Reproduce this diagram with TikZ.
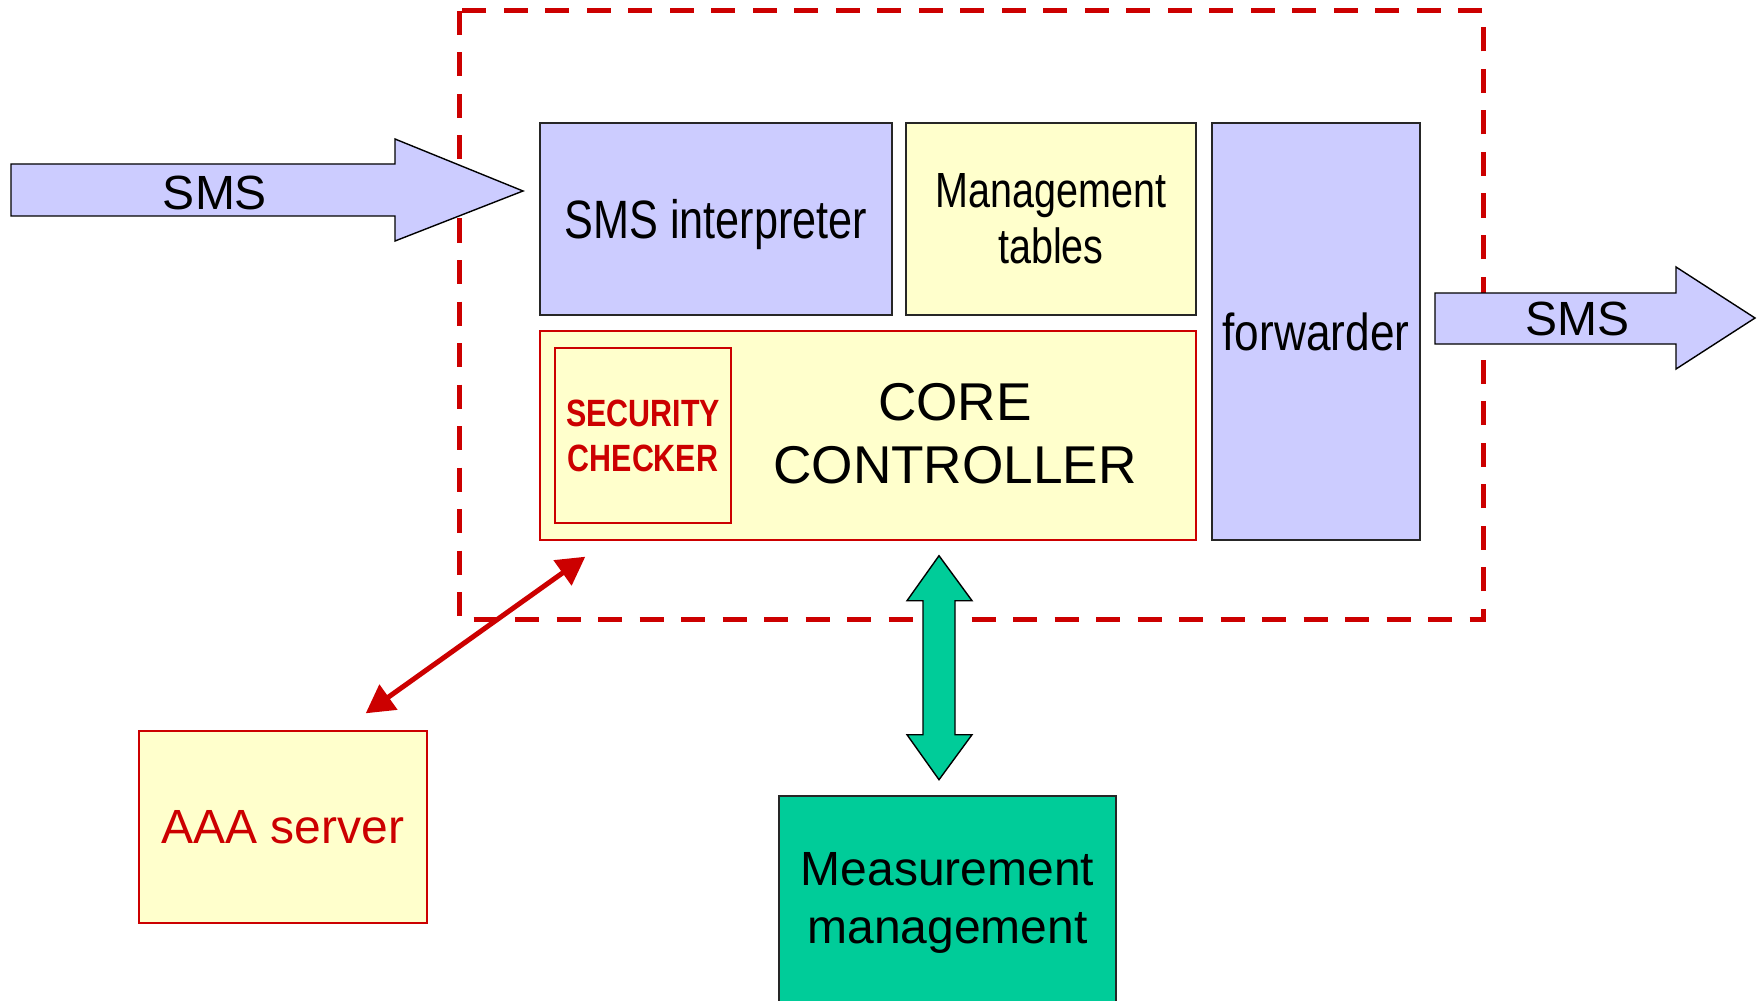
\documentclass[tikz,border=0pt]{standalone}
\usepackage{fontspec}
\setmainfont{Liberation Sans}
\newfontfamily\narrowfont[FakeStretch=0.8]{Liberation Sans}
\newfontfamily\narrowerfont[FakeStretch=0.85]{Liberation Sans}
\usetikzlibrary{arrows.meta,calc}
\definecolor{lav}{HTML}{CCCCFF}
\definecolor{pyel}{HTML}{FFFFCC}
\definecolor{dred}{HTML}{CC0000}
\definecolor{mgreen}{HTML}{00CC99}
\begin{document}
\begin{tikzpicture}[x=0.5pt,y=-0.5pt,
  blk/.style={draw=black!85, line width=0.8pt, inner sep=0pt, align=center, text=black},
  redblk/.style={draw=dred, line width=0.7pt, inner sep=0pt, align=center},
  bigarrow/.style={draw=black, line width=0.7pt, fill=lav, line join=miter},
  dashbox/.style={draw=dred, line width=2.5pt, dash pattern=on 12pt off 8.75pt},
  redlink/.style={draw=dred, line width=2.5pt, {Triangle[length=14pt,width=15pt]}-{Triangle[length=14pt,width=15pt]}},
  lbl/.style={inner sep=0pt, align=center}]
\useasboundingbox (0,0) rectangle (1759,1000);

% dashed system boundary
\draw[dashbox] (459,11) rectangle (1483,619);

% input SMS arrow
\draw[bigarrow] (11,164) -- (395,164) -- (395,139) -- (523,191) -- (395,241) -- (395,216) -- (11,216) -- cycle;
\node[lbl, font=\fontsize{24}{28}\selectfont] (smsin) at (215,193) {SMS};

% output SMS arrow
\draw[bigarrow] (1435,293) -- (1676,293) -- (1676,267) -- (1755,318) -- (1676,369) -- (1676,344) -- (1435,344) -- cycle;
\node[lbl, font=\fontsize{24}{28}\selectfont] (smsout) at (1577,319) {SMS};

% blocks
\node[blk, fill=lav, minimum width=176pt, minimum height=96pt, text depth=0pt,
      font=\narrowfont\fontsize{27}{32}\selectfont] (interp) at (716,219) {SMS interpreter};
\node[blk, fill=pyel, minimum width=145pt, minimum height=96pt,
      font=\narrowfont\fontsize{24.7}{28}\selectfont] (mtab) at (1051,219) {Management\\tables};
\node[blk, fill=lav, minimum width=104pt, minimum height=208.5pt,
      font=\narrowerfont\fontsize{26}{30}\selectfont] (fwd) at (1316,331.5) {forwarder};
\node[redblk, fill=pyel, minimum width=328pt, minimum height=104.5pt] (core) at (868,435.5) {};
\node[redblk, fill=pyel, line width=0.9pt, minimum width=88pt, minimum height=87.5pt,
      text=dred, font=\narrowfont\bfseries\fontsize{19}{22.5}\selectfont] (sec) at (643,435.5) {SECURITY\\CHECKER};
\node[lbl, font=\fontsize{26.6}{31.5}\selectfont] (corelbl) at (955,434) {CORE~\\CONTROLLER};

\node[redblk, fill=pyel, minimum width=144pt, minimum height=96pt,
      text=dred, font=\fontsize{24}{28}\selectfont] (aaa) at (283,827) {AAA server};
\node[blk, fill=mgreen, minimum width=168.5pt, minimum height=107pt,
      font=\fontsize{24}{29}\selectfont] (meas) at (947.5,903) {Measurement~\\management};

% red AAA link
\draw[redlink] ($(aaa.north east)+(-62,-17)$) -- ($(core.south west)+(46,16)$);

% green double arrow between core and measurement
\coordinate (gtop) at ($(core.south)+(71,15)$);
\draw[draw=black, line width=0.7pt, fill=mgreen]
  (gtop) -- ++(33,45) -- ++(-17,0) -- ++(0,134) -- ++(17,0) -- ++(-33,45)
  -- ++(-32,-45) -- ++(16,0) -- ++(0,-134) -- ++(-16,0) -- cycle;
\end{tikzpicture}
\end{document}
